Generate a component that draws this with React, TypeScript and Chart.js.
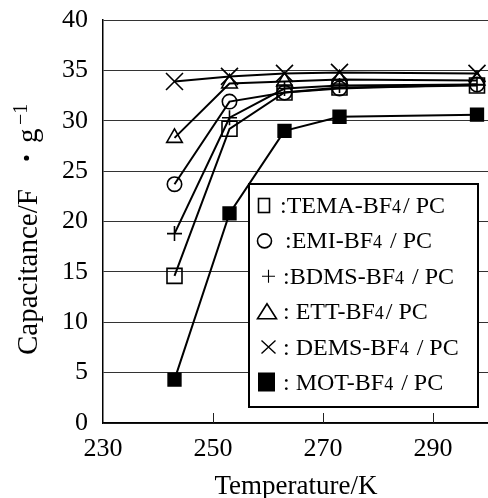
import React, { useEffect, useRef } from "react";
import { Chart, registerables } from "chart.js";

Chart.register(...registerables);

// Measurement temperatures (K)
const temperatures = [243, 253, 263, 273, 298];

// Specific capacitance (F/g) of each electrolyte in PC
const temaValues = [14.6, 29.2, 32.8, 33.3, 33.5];
const emiValues = [23.7, 31.9, 32.8, 33.2, 33.6];
const bdmsValues = [18.8, 30.3, 33.2, 33.5, 33.6];
const ettValues = [28.3, 33.7, 33.9, 34.1, 34.0];
const demsValues = [33.9, 34.4, 34.7, 34.8, 34.7];
const motValues = [4.3, 20.8, 29.0, 30.4, 30.6];

// Cation names used in the legend ("<name>-BF4 / PC")
const seriesNames = ["TEMA", "EMI", "BDMS", "ETT", "DEMS", "MOT"];

const xTickValues = [230, 250, 270, 290];
const yTickValues = [0, 5, 10, 15, 20, 25, 30, 35, 40];

const SERIF = '"Liberation Serif", "Times New Roman", serif';

type Marker = "rect" | "circle" | "cross" | "triangle" | "crossRot" | "rectFilled";

const seriesValues = [temaValues, emiValues, bdmsValues, ettValues, demsValues, motValues];
const seriesMarkers: Marker[] = ["rect", "circle", "cross", "triangle", "crossRot", "rectFilled"];
const markerRadius: Record<Marker, number> = {
  rect: 10.6,
  circle: 7.2,
  cross: 7.5,
  triangle: 9,
  crossRot: 12,
  rectFilled: 9,
};

// Legend row layout: separator before name, gap before "/ PC", text start
const legendPrefix = [":", ":", ":", ": ", ": ", ": "];
const legendTail = ["/ PC", " / PC", " / PC", "/ PC", " / PC", " / PC"];
const legendTextX = [280, 285, 283, 283, 283, 283];

function drawLegendSymbol(ctx: CanvasRenderingContext2D, marker: Marker, baseY: number) {
  ctx.save();
  ctx.strokeStyle = "#000";
  ctx.fillStyle = "#000";
  ctx.lineWidth = 1.6;
  const cy = baseY - 7.5;
  switch (marker) {
    case "rect":
      ctx.strokeRect(258.5, cy - 7, 11, 14);
      break;
    case "circle":
      ctx.beginPath();
      ctx.arc(264.5, cy, 7, 0, Math.PI * 2);
      ctx.stroke();
      break;
    case "cross":
      ctx.lineWidth = 1.1;
      ctx.beginPath();
      ctx.moveTo(262, cy);
      ctx.lineTo(275, cy);
      ctx.moveTo(268.5, cy - 6.5);
      ctx.lineTo(268.5, cy + 6.5);
      ctx.stroke();
      break;
    case "triangle":
      ctx.beginPath();
      ctx.moveTo(267, cy - 8);
      ctx.lineTo(257.5, cy + 7);
      ctx.lineTo(276.5, cy + 7);
      ctx.closePath();
      ctx.stroke();
      break;
    case "crossRot":
      ctx.lineWidth = 1.4;
      ctx.beginPath();
      ctx.moveTo(261.5, cy - 6.5);
      ctx.lineTo(275.5, cy + 6.5);
      ctx.moveTo(275.5, cy - 6.5);
      ctx.lineTo(261.5, cy + 6.5);
      ctx.stroke();
      break;
    case "rectFilled":
      ctx.fillRect(258, cy - 10, 17, 19);
      break;
  }
  ctx.restore();
}

const annotationsPlugin = {
  id: "capacitanceDecorations",
  beforeDatasetsDraw(chart: Chart) {
    // inward tick marks on the temperature axis
    const ctx = chart.ctx;
    const xs = chart.scales.x;
    const bottom = chart.chartArea.bottom;
    ctx.save();
    ctx.strokeStyle = "#222";
    ctx.lineWidth = 1;
    ctx.beginPath();
    xTickValues.slice(1).forEach((v) => {
      const px = Math.round(xs.getPixelForValue(v)) + 0.5;
      ctx.moveTo(px, bottom);
      ctx.lineTo(px, bottom - 10);
    });
    ctx.stroke();
    ctx.restore();
  },
  afterDraw(chart: Chart) {
    const ctx = chart.ctx;
    ctx.save();
    ctx.fillStyle = "#000";

    // x-axis title
    ctx.font = `27px ${SERIF}`;
    ctx.textAlign = "center";
    ctx.textBaseline = "alphabetic";
    ctx.fillText("Temperature/K", 296, 494);

    // y-axis title with F·g^-1 unit
    ctx.translate(37, 355);
    ctx.rotate(-Math.PI / 2);
    ctx.textAlign = "left";
    ctx.font = `29px ${SERIF}`;
    ctx.fillText("Capacitance/F", 0, 0);
    ctx.beginPath();
    ctx.arc(197, -10.5, 2.6, 0, Math.PI * 2);
    ctx.fill();
    ctx.fillText("g", 212, 0);
    ctx.font = `20px ${SERIF}`;
    ctx.fillText("\u22121", 230, -10);
    ctx.restore();

    // legend box
    ctx.save();
    ctx.fillStyle = "#fff";
    ctx.fillRect(249, 184, 229, 223);
    ctx.strokeStyle = "#000";
    ctx.lineWidth = 2;
    ctx.strokeRect(249, 184, 229, 223);
    ctx.fillStyle = "#000";
    ctx.textAlign = "left";
    ctx.textBaseline = "alphabetic";
    seriesNames.forEach((name, i) => {
      const baseY = 213 + i * 35.4;
      drawLegendSymbol(ctx, seriesMarkers[i], baseY);
      let x = legendTextX[i];
      ctx.font = `24px ${SERIF}`;
      const head = `${legendPrefix[i]}${name}-BF`;
      ctx.fillText(head, x, baseY);
      x += ctx.measureText(head).width;
      ctx.font = `18px ${SERIF}`;
      ctx.fillText("4", x, baseY);
      x += ctx.measureText("4").width + 2;
      ctx.font = `24px ${SERIF}`;
      ctx.fillText(legendTail[i], x, baseY);
    });
    ctx.restore();
  },
};

export default function App() {
  const canvasRef = useRef<HTMLCanvasElement | null>(null);

  useEffect(() => {
    if (!canvasRef.current) return;
    const datasets = seriesValues.map((values, i) => {
      const marker = seriesMarkers[i];
      const filled = marker === "rectFilled";
      return {
        label: `${seriesNames[i]}-BF4 / PC`,
        data: temperatures.map((t, k) => ({ x: t, y: values[k] })),
        borderColor: "#000",
        borderWidth: 2,
        pointStyle: filled ? "rect" : marker,
        pointRadius: markerRadius[marker],
        pointBorderWidth: 1.6,
        pointBorderColor: "#000",
        pointBackgroundColor: filled ? "#000" : "rgba(0,0,0,0)",
        tension: 0,
        fill: false,
      };
    });

    const chart = new Chart(canvasRef.current, {
      type: "line",
      data: { datasets },
      plugins: [annotationsPlugin],
      options: {
        animation: false,
        responsive: true,
        maintainAspectRatio: false,
        layout: { autoPadding: false, padding: { top: 20, right: 0, left: 0, bottom: 0 } },
        plugins: {
          legend: { display: false },
          tooltip: { enabled: false },
        },
        scales: {
          x: {
            type: "linear",
            min: 230,
            max: 300,
            afterBuildTicks: (axis: any) => {
              axis.ticks = xTickValues.map((v) => ({ value: v }));
            },
            afterFit: (s: any) => {
              s.height = 75;
              s.paddingLeft = 0;
              s.paddingRight = 0;
            },
            grid: { display: false, drawTicks: false },
            border: { display: true, color: "#000", width: 1.5 },
            ticks: {
              padding: 11,
              color: "#000",
              font: { family: SERIF, size: 26 },
            },
          },
          y: {
            type: "linear",
            min: 0,
            max: 40,
            afterBuildTicks: (axis: any) => {
              axis.ticks = yTickValues.map((v) => ({ value: v }));
            },
            afterFit: (s: any) => {
              s.width = 103;
              s.paddingTop = 0;
              s.paddingBottom = 0;
            },
            grid: { display: true, drawTicks: false, color: "#333", lineWidth: 1 },
            border: { display: true, color: "#000", width: 1.5 },
            ticks: {
              padding: 15,
              color: "#000",
              font: { family: SERIF, size: 26 },
            },
          },
        },
      },
    });
    return () => chart.destroy();
  }, []);

  return (
    <div style={{ position: "fixed", left: 0, top: 0, width: 488, height: 498, background: "#fff" }}>
      <canvas ref={canvasRef} />
    </div>
  );
}
